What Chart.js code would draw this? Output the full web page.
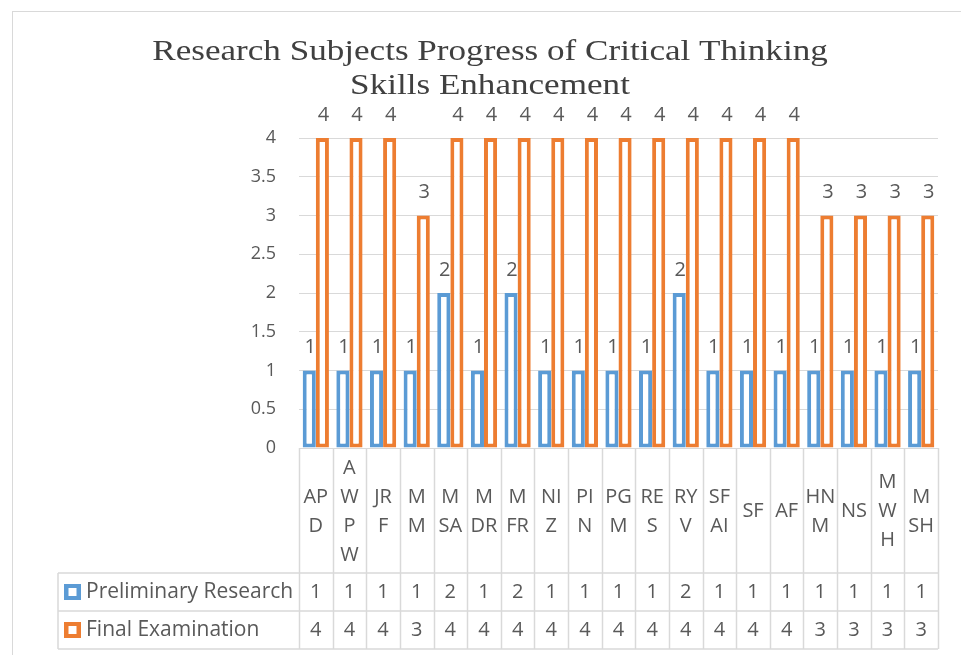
<!DOCTYPE html>
<html>
<head>
<meta charset="utf-8">
<style>
  html, body { margin: 0; padding: 0; background: #fff; }
  canvas { display: block; }
</style>
<script src="https://cdn.jsdelivr.net/npm/chart.js@4/dist/chart.umd.min.js"></script>
</head>
<body>
<canvas id="progressChart" width="961" height="655"></canvas>
<script>
// 차트 데이터
const titleLines = ['Research Subjects Progress of Critical Thinking', 'Skills Enhancement'];
const categoryLines = [
    ['AP', 'D'], ['A', 'W', 'P', 'W'], ['JR', 'F'], ['M', 'M'], ['M', 'SA'],
    ['M', 'DR'], ['M', 'FR'], ['NI', 'Z'], ['PI', 'N'], ['PG', 'M'],
    ['RE', 'S'], ['RY', 'V'], ['SF', 'AI'], ['SF'], ['AF'],
    ['HN', 'M'], ['NS'], ['M', 'W', 'H'], ['M', 'SH']
];
const seriesNames = ['Preliminary Research', 'Final Examination'];
const preliminary = [1, 1, 1, 1, 2, 1, 2, 1, 1, 1, 1, 2, 1, 1, 1, 1, 1, 1, 1];
const finalExam = [4, 4, 4, 3, 4, 4, 4, 4, 4, 4, 4, 4, 4, 4, 4, 3, 3, 3, 3];
const yTicks = [0, 0.5, 1, 1.5, 2, 2.5, 3, 3.5, 4];

const BLUE = '#5B9BD5';
const ORANGE = '#ED7D31';
const TEXT = '#595959';
const GRID = '#D9D9D9';
const FONT = '"Open Sans", sans-serif';

// 프레임 + 제목
const framePlugin = {
    id: 'frame',
    beforeDraw(chart) {
        const ctx = chart.ctx;
        ctx.save();
        ctx.strokeStyle = GRID;
        ctx.lineWidth = 1;
        ctx.strokeRect(12.5, 11.5, 1000, 700);
        ctx.fillStyle = '#404040';
        ctx.font = '30px "Liberation Serif", serif';
        ctx.textAlign = 'center';
        ctx.textBaseline = 'middle';
        ctx.translate(490, 0);
        ctx.scale(1.17, 1);
        titleLines.forEach((line, i) => ctx.fillText(line, 0, 52 + i * 34));
        ctx.restore();
    }
};

// 막대 위 값 라벨
const valueLabelPlugin = {
    id: 'valueLabels',
    afterDatasetsDraw(chart) {
        const ctx = chart.ctx;
        ctx.save();
        ctx.fillStyle = TEXT;
        ctx.font = '20px ' + FONT;
        ctx.textAlign = 'center';
        ctx.textBaseline = 'middle';
        chart.data.datasets.forEach((ds, di) => {
            chart.getDatasetMeta(di).data.forEach((bar, i) => {
                ctx.fillText(String(ds.data[i]), bar.x + 1, bar.y - 23);
            });
        });
        ctx.restore();
    }
};

// 데이터 테이블 (카테고리 + 값 + 범례)
const dataTablePlugin = {
    id: 'dataTable',
    afterDraw(chart) {
        const ctx = chart.ctx;
        const x = chart.scales.x;
        const area = chart.chartArea;
        const n = categoryLines.length;
        const colW = (area.right - area.left) / n;
        const top = area.bottom;
        const rowTop = top + 125;
        const rowH = 38;
        const tableLeft = 58;
        const bottom = rowTop + rowH * 2;

        ctx.save();
        ctx.strokeStyle = GRID;
        ctx.lineWidth = 1.5;
        ctx.beginPath();
        for (let i = 0; i <= n; i++) {
            const px = Math.round(area.left + i * colW) + 0.5;
            ctx.moveTo(px, top);
            ctx.lineTo(px, bottom);
        }
        [rowTop, rowTop + rowH, bottom].forEach(y => {
            ctx.moveTo(tableLeft, y);
            ctx.lineTo(area.right, y);
        });
        ctx.moveTo(tableLeft, rowTop);
        ctx.lineTo(tableLeft, bottom);
        ctx.stroke();

        ctx.fillStyle = TEXT;
        ctx.font = '20px ' + FONT;
        ctx.textAlign = 'center';
        ctx.textBaseline = 'middle';
        const midY = (top + rowTop) / 2;
        categoryLines.forEach((lines, i) => {
            const cx = x.getPixelForValue(i);
            const startY = midY + 1 - (lines.length - 1) * 29 / 2;
            lines.forEach((t, j) => ctx.fillText(t, cx, startY + j * 29));
            ctx.fillText(String(preliminary[i]), cx, rowTop + rowH / 2);
            ctx.fillText(String(finalExam[i]), cx, rowTop + rowH * 1.5);
        });

        // 범례 키
        ctx.font = '21px ' + FONT;
        [BLUE, ORANGE].forEach((color, k) => {
            const cy = rowTop + rowH * (k + 0.5);
            ctx.fillStyle = color;
            ctx.fillRect(64, cy - 8, 17, 16);
            ctx.fillStyle = '#fff';
            ctx.fillRect(68.5, cy - 4, 8, 8);
            ctx.fillStyle = TEXT;
            ctx.textAlign = 'left';
            ctx.fillText(seriesNames[k], 86, cy);
        });
        ctx.restore();
    }
};

new Chart(document.getElementById('progressChart'), {
    type: 'bar',
    data: {
        labels: categoryLines.map(l => l.join('')),
        datasets: [
            {
                label: seriesNames[0],
                data: preliminary,
                backgroundColor: '#FFFFFF',
                borderColor: BLUE,
                borderWidth: 4,
                borderSkipped: false
            },
            {
                label: seriesNames[1],
                data: finalExam,
                backgroundColor: '#FFFFFF',
                borderColor: ORANGE,
                borderWidth: 4,
                borderSkipped: false
            }
        ]
    },
    options: {
        responsive: false,
        animation: false,
        devicePixelRatio: 1,
        categoryPercentage: 0.78,
        barPercentage: 1,
        layout: { padding: { left: 209, right: 23, top: 138, bottom: 207 } },
        plugins: {
            legend: { display: false },
            title: { display: false },
            tooltip: { enabled: false }
        },
        scales: {
            x: { display: false },
            y: {
                min: 0,
                max: 4,
                afterFit(scale) { scale.width = 90; },
                afterBuildTicks(scale) { scale.ticks = yTicks.map(v => ({ value: v })); },
                border: { display: false },
                grid: { color: GRID, lineWidth: 1, drawTicks: false },
                ticks: {
                    color: TEXT,
                    padding: 23,
                    font: { family: '"Open Sans", sans-serif', size: 18 },
                    callback: v => String(v)
                }
            }
        }
    },
    plugins: [framePlugin, valueLabelPlugin, dataTablePlugin]
});
</script>
</body>
</html>
